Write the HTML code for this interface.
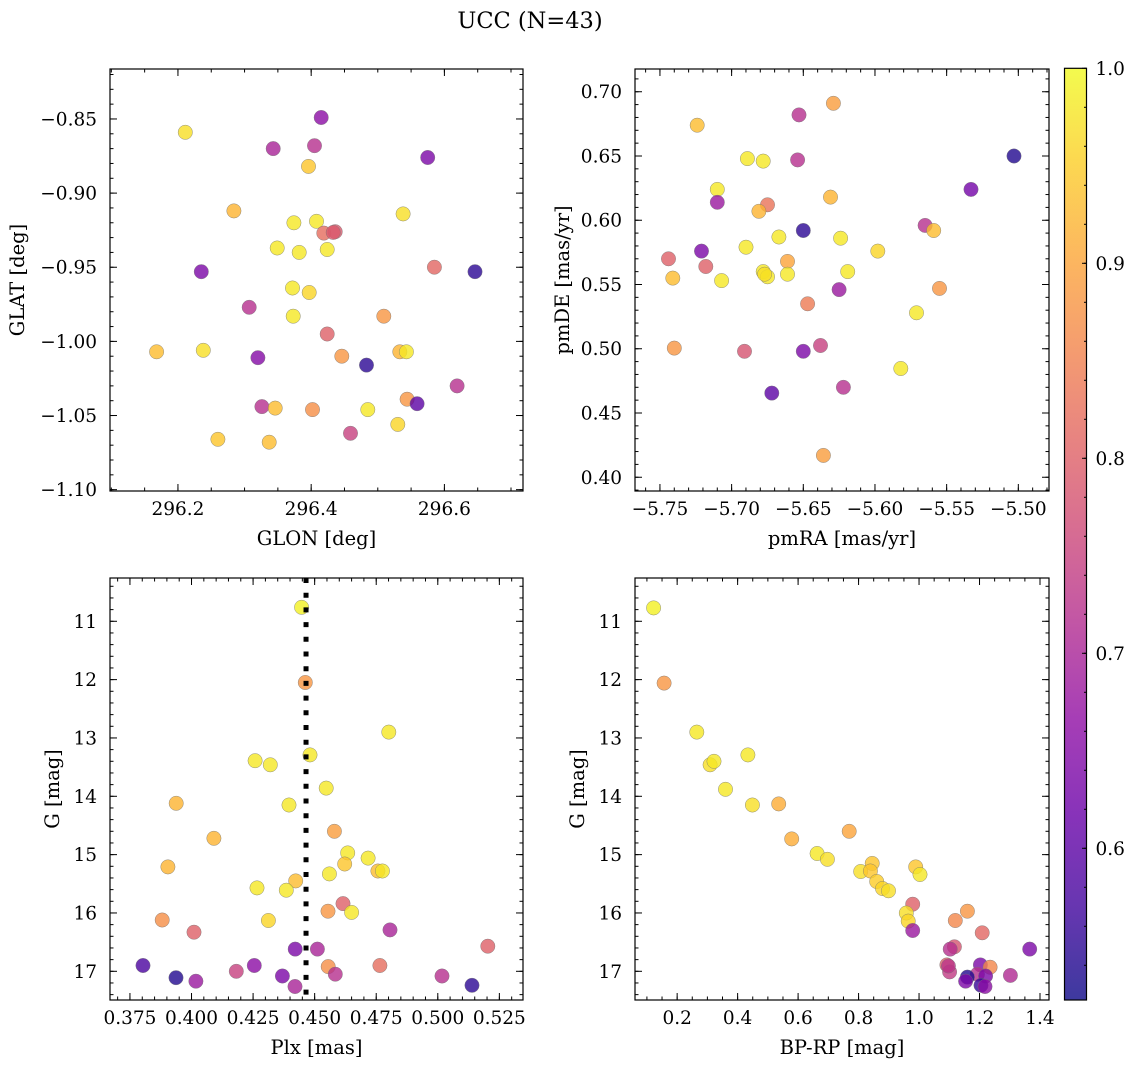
<!DOCTYPE html>
<html><head><meta charset="utf-8"><style>
html,body{margin:0;padding:0;background:#fff;}
svg{display:block;font-family:"DejaVu Serif","Liberation Serif",serif;}
</style></head><body>
<svg id="fig" width="1136" height="1068" viewBox="0 0 1136 1068" xmlns="http://www.w3.org/2000/svg">
<text x="530" y="28" font-size="22.5" text-anchor="middle">UCC (N=43)</text>
</svg>
<script>
// ---- data ----
const tlGlon=[296.211,296.415,296.343,296.405,296.396,296.575,296.284,296.538,296.374,296.408,296.419,296.436,296.349,296.382,296.424,296.235,296.585,296.646,296.372,296.397,296.307,296.373,296.509,296.424,296.168,296.238,296.320,296.446,296.483,296.533,296.543,296.619,296.544,296.559,296.326,296.346,296.402,296.485,296.530,296.459,296.260,296.337,296.433];
const tlGlat=[-0.859,-0.849,-0.870,-0.868,-0.882,-0.876,-0.912,-0.914,-0.920,-0.919,-0.927,-0.926,-0.937,-0.940,-0.938,-0.953,-0.950,-0.953,-0.964,-0.967,-0.977,-0.983,-0.983,-0.995,-1.007,-1.006,-1.011,-1.010,-1.016,-1.007,-1.007,-1.030,-1.039,-1.042,-1.044,-1.045,-1.046,-1.046,-1.056,-1.062,-1.066,-1.068,-0.9265];
const tlProb=[0.97,0.66,0.70,0.72,0.94,0.64,0.92,0.97,0.98,0.98,0.82,0.79,0.98,0.98,0.98,0.64,0.81,0.55,0.98,0.96,0.72,0.98,0.88,0.80,0.93,0.97,0.65,0.88,0.55,0.92,0.98,0.72,0.88,0.60,0.72,0.93,0.87,0.98,0.96,0.75,0.94,0.93,0.79];

const trPmra=[-5.629,-5.724,-5.653,-5.503,-5.689,-5.678,-5.654,-5.710,-5.710,-5.533,-5.631,-5.675,-5.681,-5.650,-5.667,-5.624,-5.565,-5.559,-5.721,-5.690,-5.598,-5.744,-5.718,-5.741,-5.707,-5.678,-5.675,-5.661,-5.661,-5.619,-5.625,-5.555,-5.647,-5.571,-5.740,-5.691,-5.650,-5.638,-5.582,-5.622,-5.672,-5.636,-5.677];
const trPmde=[0.691,0.674,0.682,0.650,0.648,0.646,0.647,0.624,0.614,0.624,0.618,0.612,0.607,0.592,0.587,0.586,0.596,0.592,0.576,0.579,0.576,0.570,0.564,0.555,0.553,0.560,0.556,0.568,0.558,0.560,0.546,0.547,0.535,0.528,0.5005,0.498,0.498,0.5025,0.4846,0.470,0.4655,0.417,0.558];
const trProb=[0.89,0.93,0.72,0.54,0.98,0.98,0.72,0.98,0.68,0.63,0.92,0.83,0.92,0.55,0.98,0.98,0.72,0.93,0.64,0.98,0.96,0.80,0.80,0.93,0.98,0.98,0.98,0.90,0.98,0.98,0.68,0.88,0.84,0.98,0.88,0.78,0.64,0.75,0.98,0.72,0.60,0.89,0.97];

const blPlx=[0.4447,0.4462,0.4801,0.4481,0.4258,0.4320,0.4547,0.3938,0.4396,0.4091,0.4580,0.4634,0.4717,0.4622,0.3904,0.4757,0.4775,0.4560,0.4423,0.4266,0.4385,0.4615,0.4554,0.4650,0.3881,0.4312,0.4010,0.4806,0.4421,0.4511,0.5203,0.3803,0.4255,0.4182,0.4555,0.4584,0.4765,0.3937,0.4018,0.4369,0.5017,0.4420,0.5139];
const blG=[10.76,12.05,12.90,13.29,13.39,13.46,13.86,14.12,14.15,14.72,14.60,14.97,15.06,15.16,15.21,15.28,15.28,15.33,15.45,15.57,15.61,15.84,15.97,15.99,16.12,16.13,16.33,16.29,16.62,16.62,16.57,16.90,16.90,17.00,16.92,17.05,16.90,17.11,17.17,17.08,17.08,17.26,17.24];
const blProb=[0.99,0.88,0.98,0.98,0.98,0.98,0.98,0.92,0.98,0.92,0.89,0.98,0.98,0.94,0.92,0.93,0.98,0.98,0.93,0.98,0.98,0.80,0.88,0.98,0.87,0.96,0.80,0.70,0.64,0.70,0.80,0.58,0.66,0.75,0.87,0.72,0.82,0.54,0.68,0.64,0.72,0.70,0.55];
const plxMedian=[0.4465];

const brBprp=[0.122,0.157,0.265,0.309,0.322,0.434,0.360,0.449,0.536,0.579,0.769,0.663,0.697,0.807,0.845,0.839,0.860,0.879,0.899,0.989,1.003,0.979,0.958,0.964,0.979,1.160,1.120,1.209,1.117,1.103,1.366,1.092,1.101,1.203,1.235,1.193,1.220,1.160,1.154,1.302,1.205,1.218,1.097];
const brG=[10.77,12.06,12.90,13.46,13.40,13.29,13.88,14.15,14.13,14.73,14.60,14.98,15.08,15.29,15.15,15.28,15.46,15.58,15.62,15.21,15.34,15.85,16.00,16.14,16.30,15.97,16.13,16.34,16.58,16.62,16.62,16.89,17.01,16.89,16.93,17.05,17.08,17.10,17.17,17.07,17.24,17.26,16.91];
const brProb=[0.99,0.88,0.98,0.97,0.98,0.98,0.98,0.97,0.91,0.91,0.90,0.98,0.97,0.97,0.94,0.94,0.95,0.96,0.97,0.94,0.98,0.80,0.97,0.96,0.68,0.88,0.86,0.81,0.78,0.72,0.64,0.80,0.74,0.64,0.86,0.72,0.64,0.54,0.64,0.71,0.56,0.66,0.73];

const tlXTicks=[296.2,296.4,296.6], tlXLabels=["296.2","296.4","296.6"];
const tlYTicks=[-0.85,-0.90,-0.95,-1.00,-1.05,-1.10], tlYLabels=["\u22120.85","\u22120.90","\u22120.95","\u22121.00","\u22121.05","\u22121.10"];
const trXTicks=[-5.75,-5.70,-5.65,-5.60,-5.55,-5.50], trXLabels=["\u22125.75","\u22125.70","\u22125.65","\u22125.60","\u22125.55","\u22125.50"];
const trYTicks=[0.70,0.65,0.60,0.55,0.50,0.45,0.40], trYLabels=["0.70","0.65","0.60","0.55","0.50","0.45","0.40"];
const blXTicks=[0.375,0.400,0.425,0.450,0.475,0.500,0.525], blXLabels=["0.375","0.400","0.425","0.450","0.475","0.500","0.525"];
const gTicks=[11,12,13,14,15,16,17], gLabels=["11","12","13","14","15","16","17"];
const brXTicks=[0.2,0.4,0.6,0.8,1.0,1.2,1.4], brXLabels=["0.2","0.4","0.6","0.8","1.0","1.2","1.4"];
const cbTicks=[0.6,0.7,0.8,0.9,1.0], cbLabels=["0.6","0.7","0.8","0.9","1.0"];

// ---- helpers ----
const NS="http://www.w3.org/2000/svg";
const svg=document.getElementById('fig');
function mk(tag,attrs,parent){const e=document.createElementNS(NS,tag);for(const k in attrs)e.setAttribute(k,attrs[k]);(parent||svg).appendChild(e);return e;}
const VMIN=0.5222,VMAX=1.0;
const stops=[[13,8,135],[65,4,157],[106,0,168],[143,13,164],[177,42,144],[204,71,120],[225,100,98],[242,132,75],[252,166,54],[252,206,37],[240,249,33]];
function plasma(t){t=Math.max(0,Math.min(1,t));const f=t*10,i=Math.min(9,Math.floor(f)),u=f-i;const a=stops[i],b=stops[i+1];return 'rgb('+a.map((v,k)=>Math.round(v+(b[k]-v)*u)).join(',')+')';}
function cmap(p){return plasma((p-VMIN)/(VMAX-VMIN));}

function panel(cfg){
  const g=mk('g',{});
  
  
  const sx=v=>cfg.L+(v-cfg.x0)/(cfg.x1-cfg.x0)*(cfg.R-cfg.L);
  const sy=v=>cfg.T+(v-cfg.y0)/(cfg.y1-cfg.y0)*(cfg.B-cfg.T);
  const pg=mk('g',{},g);
  
  
  for(let i=0;i<cfg.xs.length;i++){
    const c=mk('circle',{cx:sx(cfg.xs[i]).toFixed(1),cy:sy(cfg.ys[i]).toFixed(1),r:7.2,fill:cmap(cfg.ps[i]),'fill-opacity':0.8,stroke:'#777','stroke-width':0.5,'stroke-opacity':0.8},pg);
    
    
  }
  if(cfg.vline){
    const ln=mk('line',{x1:sx(cfg.vline[0]),x2:sx(cfg.vline[0]),y1:cfg.T,y2:cfg.B,stroke:'#000','stroke-width':5,'stroke-dasharray':'5 9.7'},g);
    
    
  }
  const fr=mk('rect',{x:cfg.L,y:cfg.T,width:cfg.R-cfg.L,height:cfg.B-cfg.T,fill:'none',stroke:'#000','stroke-width':1.2},g);
  
  
  const tg=mk('g',{stroke:'#000','stroke-width':1},g);
  
  
  const xa=Math.min(cfg.x0,cfg.x1),xb=Math.max(cfg.x0,cfg.x1);
  for(let k=Math.ceil(xa/cfg.xm-1e-6);k*cfg.xm<=xb+1e-9;k++){const x=sx(k*cfg.xm);mk('line',{x1:x,x2:x,y1:cfg.B,y2:cfg.B-3.5},tg);mk('line',{x1:x,x2:x,y1:cfg.T,y2:cfg.T+3.5},tg);}
  const ya=Math.min(cfg.y0,cfg.y1),yb=Math.max(cfg.y0,cfg.y1);
  for(let k=Math.ceil(ya/cfg.ym-1e-6);k*cfg.ym<=yb+1e-9;k++){const y=sy(k*cfg.ym);mk('line',{x1:cfg.L,x2:cfg.L+3.5,y1:y,y2:y},tg);mk('line',{x1:cfg.R,x2:cfg.R-3.5,y1:y,y2:y},tg);}
  cfg.xt.forEach((v,i)=>{const x=sx(v);mk('line',{x1:x,x2:x,y1:cfg.B,y2:cfg.B-7},tg);mk('line',{x1:x,x2:x,y1:cfg.T,y2:cfg.T+7},tg);
    const t=mk('text',{x:x,y:cfg.B+24,'font-size':18.5,'text-anchor':'middle'},g);t.textContent=cfg.xl[i];
    
    });
  cfg.yt.forEach((v,i)=>{const y=sy(v);mk('line',{x1:cfg.L,x2:cfg.L+7,y1:y,y2:y},tg);mk('line',{x1:cfg.R,x2:cfg.R-7,y1:y,y2:y},tg);
    const t=mk('text',{x:cfg.L-13,y:y+6.5,'font-size':18.5,'text-anchor':'end'},g);t.textContent=cfg.yl[i];
    
    });
  const xt=mk('text',{x:(cfg.L+cfg.R)/2,y:cfg.B+54,'font-size':19.5,'text-anchor':'middle'},g);xt.textContent=cfg.xtitle;
  
  
  const yx=cfg.ytx, yc=(cfg.T+cfg.B)/2;
  const yt=mk('text',{x:yx,y:yc,'font-size':19.5,'text-anchor':'middle',transform:'rotate(-90 '+yx+' '+yc+')'},g);yt.textContent=cfg.ytitle;
  
  
}

panel({name:'glon-glat-panel',L:110,R:523,T:69,B:491,x0:296.098,x1:296.718,y0:-0.8163,y1:-1.1009,xm:0.05,ym:0.01,
  xs:tlGlon,ys:tlGlat,ps:tlProb,xt:tlXTicks,xl:tlXLabels,yt:tlYTicks,yl:tlYLabels,xtitle:'GLON [deg]',ytitle:'GLAT [deg]',ytx:24});
panel({name:'pmra-pmde-panel',L:635,R:1049,T:69,B:491,x0:-5.7674,x1:-5.4786,y0:0.7177,y1:0.3893,xm:0.01,ym:0.01,
  xs:trPmra,ys:trPmde,ps:trProb,xt:trXTicks,xl:trXLabels,yt:trYTicks,yl:trYLabels,xtitle:'pmRA [mas/yr]',ytitle:'pmDE [mas/yr]',ytx:569});
panel({name:'plx-g-panel',L:110,R:523,T:578,B:1000,x0:0.3669,x1:0.5346,y0:10.258,y1:17.492,xm:0.005,ym:0.2,
  xs:blPlx,ys:blG,ps:blProb,xt:blXTicks,xl:blXLabels,yt:gTicks,yl:gLabels,xtitle:'Plx [mas]',ytitle:'G [mag]',ytx:59,vline:plxMedian});
panel({name:'cmd-panel',L:635,R:1049,T:578,B:1000,x0:0.0606,x1:1.4298,y0:10.258,y1:17.492,xm:0.05,ym:0.2,
  xs:brBprp,ys:brG,ps:brProb,xt:brXTicks,xl:brXLabels,yt:gTicks,yl:gLabels,xtitle:'BP-RP [mag]',ytitle:'G [mag]',ytx:584});

(function(){
  const L=1064.5,R=1086.5,T=68.3,B=1000;
  const g=mk('g',{});
  
  
  const defs=mk('defs',{},g);
  const lg=mk('linearGradient',{id:'cbg',x1:0,y1:1,x2:0,y2:0},defs);
  for(let i=0;i<=20;i++){mk('stop',{offset:(i/20),'stop-color':plasma(i/20),'stop-opacity':0.8},lg);}
  const r=mk('rect',{x:L,y:T,width:R-L,height:B-T,fill:'url(#cbg)',stroke:'#000','stroke-width':1.2},g);
  
  
  const sy=v=>B-(v-VMIN)/(VMAX-VMIN)*(B-T);
  for(let k=27;k<=50;k++){const y=sy(k*0.02);mk('line',{x1:R,x2:R-2.5,y1:y,y2:y,stroke:'#000','stroke-width':1},g);}
  cbTicks.forEach((v,i)=>{const y=sy(v);mk('line',{x1:R,x2:R-4.5,y1:y,y2:y,stroke:'#000','stroke-width':1},g);
    const t=mk('text',{x:R+9,y:y+6.5,'font-size':18.5},g);t.textContent=cbLabels[i];
    
    });
})();
</script>
</body></html>
